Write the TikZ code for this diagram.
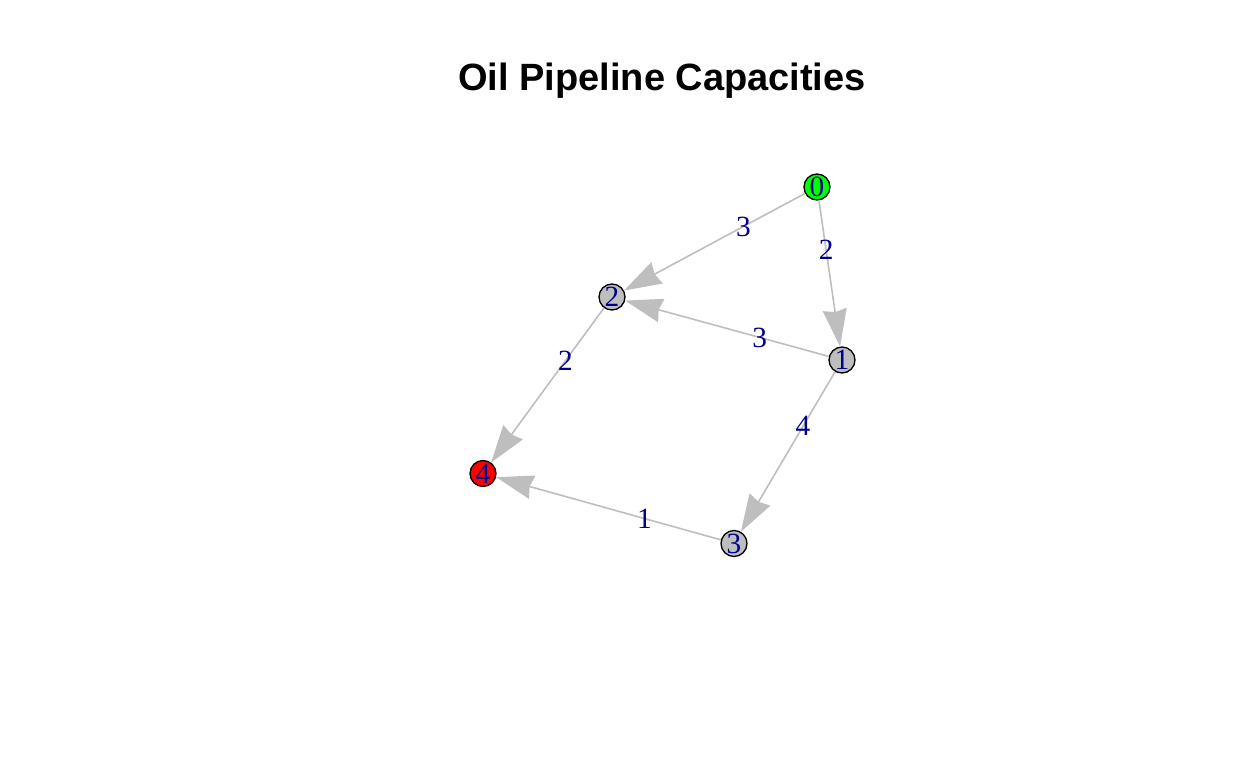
\documentclass[tikz,border=0pt]{standalone}
\usepackage{fontspec}
\setmainfont{Liberation Serif}
\newfontfamily\titlefont{Liberation Sans}
\usepackage{xcolor}
\usetikzlibrary{arrows.meta}

\definecolor{edgegray}{RGB}{190,190,190}
\definecolor{labelblue}{RGB}{0,0,139}
\definecolor{srcgreen}{RGB}{0,255,0}
\definecolor{sinkred}{RGB}{255,0,0}

\begin{document}
\begin{tikzpicture}[
    x=0.75pt, y=-0.75pt,
    every node/.style={font=\fontsize{22}{22}\selectfont, text=labelblue},
    vertex/.style={circle, draw=black, line width=1pt, fill=edgegray, minimum size=19.5pt, inner sep=0pt},
    pipe/.style={draw=edgegray, line width=1.2pt, -{Stealth[length=28pt, width=18pt, inset=2pt]}},
    caplabel/.style={pos=0.34, inner sep=0pt}
]
\useasboundingbox (0,0) rectangle (1248,768);

% Title
\node[font=\titlefont\bfseries\fontsize{28.5}{28.5}\selectfont, text=black] (title) at (662,81) {Oil Pipeline Capacities};

% Nodes
\node[vertex, fill=srcgreen] (n0) at (817,187) {0};
\node[vertex] (n1) at (842,360) {1};
\node[vertex] (n2) at (612,297) {2};
\node[vertex] (n3) at (734,543.5) {3};
\node[vertex, fill=sinkred] (n4) at (483,473.5) {4};

% Arrows with labels
\draw[pipe] (n0) -- node[caplabel] {3} (n2);
\draw[pipe] (n0) -- node[caplabel] {2} (n1);
\draw[pipe] (n1) -- node[caplabel] {3} (n2);
\draw[pipe] (n2) -- node[caplabel] {2} (n4);
\draw[pipe] (n1) -- node[caplabel] {4} (n3);
\draw[pipe] (n3) -- node[caplabel] {1} (n4);
\end{tikzpicture}
\end{document}
